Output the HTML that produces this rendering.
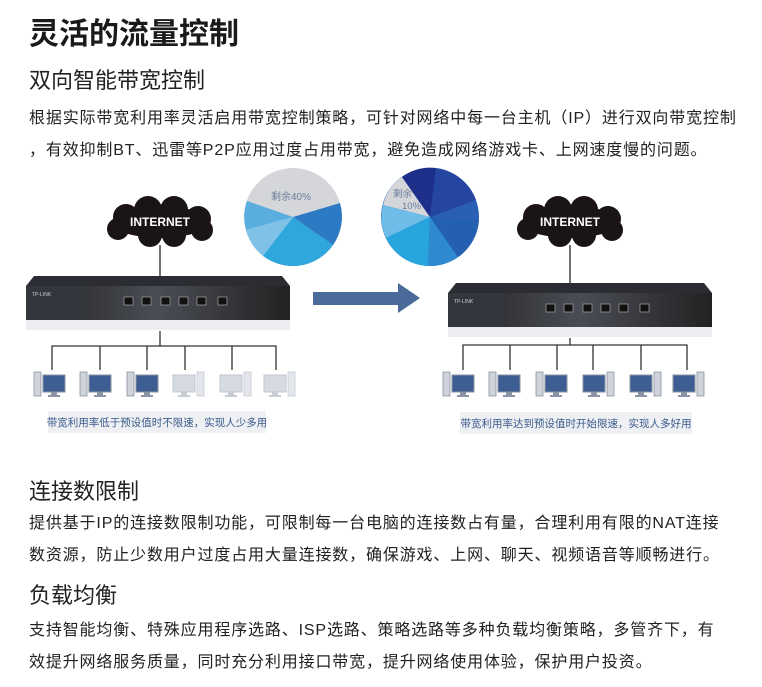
<!DOCTYPE html>
<html><head><meta charset="utf-8"><style>
body{margin:0;width:762px;height:687px;background:#fff;position:relative;overflow:hidden;font-family:"Liberation Sans","Noto Sans CJK SC",sans-serif;color:#222}
.t{position:absolute;left:29px;white-space:nowrap}
.h1{top:9px;font-size:30px;font-weight:bold;color:#1a1a1a}
.h2{font-size:22px;color:#222}
.p{font-size:16px;letter-spacing:0.85px;color:#222}
svg{position:absolute;left:0;top:0}
</style></head><body>
<div class="t h1">灵活的流量控制</div>
<div class="t h2" style="top:63px">双向智能带宽控制</div>
<div class="t p" style="top:104px">根据实际带宽利用率灵活启用带宽控制策略，可针对网络中每一台主机（IP）进行双向带宽控制</div>
<div class="t p" style="top:136px">，有效抑制BT、迅雷等P2P应用过度占用带宽，避免造成网络游戏卡、上网速度慢的问题。</div>

<svg width="762" height="460" viewBox="0 0 762 460">
<defs>
<linearGradient id="rt" x1="0" y1="0" x2="1" y2="0"><stop offset="0" stop-color="#222"/><stop offset=".5" stop-color="#4a4d55"/><stop offset="1" stop-color="#222"/></linearGradient>
<g id="cloud"><ellipse cx="0" cy="0" rx="48" ry="16" fill="#1b1414"/><circle cx="-34" cy="-5" r="13" fill="#1b1414"/><circle cx="-12" cy="-12" r="14" fill="#1b1414"/><circle cx="14" cy="-12" r="14" fill="#1b1414"/><circle cx="38" cy="-3" r="13" fill="#1b1414"/><circle cx="-42" cy="7" r="11" fill="#1b1414"/><circle cx="42" cy="8" r="11" fill="#1b1414"/><circle cx="-10" cy="13" r="12" fill="#1b1414"/><circle cx="14" cy="13" r="12" fill="#1b1414"/><text x="0" y="4" font-size="12" font-weight="bold" fill="#fff" text-anchor="middle" font-family="Liberation Sans">INTERNET</text></g>
<g id="pc"><rect x="0" y="0" width="7" height="24" fill="#cfd3da" stroke="#8a93a3" stroke-width=".8"/><rect x="9" y="3" width="22" height="17" fill="#3d5e93" stroke="#8a93a3"/><rect x="17" y="20" width="6" height="3" fill="#8a93a3"/><rect x="14" y="23" width="12" height="2" fill="#8a93a3"/></g>
<g id="pcl"><rect x="0" y="3" width="22" height="17" fill="#d6dae2" stroke="#c2c7d0"/><rect x="8" y="20" width="6" height="3" fill="#c8ccd4"/><rect x="5" y="23" width="12" height="2" fill="#c8ccd4"/><rect x="24" y="0" width="7" height="24" fill="#e3e6eb" stroke="#c8ccd4" stroke-width=".8"/></g>
<g id="pcr"><rect x="0" y="3" width="22" height="17" fill="#3d5e93" stroke="#8a93a3"/><rect x="8" y="20" width="6" height="3" fill="#8a93a3"/><rect x="5" y="23" width="12" height="2" fill="#8a93a3"/><rect x="24" y="0" width="7" height="24" fill="#cfd3da" stroke="#8a93a3" stroke-width=".8"/></g>
<g id="router"><path d="M8 0 H256 L264 10 H0 Z" fill="#2b2d33"/><rect x="0" y="10" width="264" height="34" fill="url(#rt)"/><rect x="0" y="10" width="56" height="34" fill="#33363d"/><text x="6" y="20" font-size="5" fill="#ccc" font-family="Liberation Sans">TP-LINK</text>
<g fill="#111" stroke="#999" stroke-width=".8"><rect x="98" y="21" width="9" height="8"/><rect x="116" y="21" width="9" height="8"/><rect x="135" y="21" width="9" height="8"/><rect x="153" y="21" width="9" height="8"/><rect x="171" y="21" width="9" height="8"/><rect x="192" y="21" width="9" height="8"/></g>
<rect x="0" y="44" width="264" height="10" fill="#eceef1"/></g>
</defs>
<use href="#cloud" x="160" y="222"/>
<line x1="160" y1="245" x2="160" y2="277" stroke="#444" stroke-width="1.5"/>
<use href="#router" x="26" y="276"/>
<g stroke="#333" stroke-width="1.3" fill="none">
<path d="M160 331 V346 M52 370 V346 H276 V370 M100 346 V370 M147 346 V370 M185 346 V370 M232 346 V370"/>
</g>
<use href="#pc" x="34" y="372"/><use href="#pc" x="80" y="372"/><use href="#pc" x="127" y="372"/>
<use href="#pcl" x="173" y="372"/><use href="#pcl" x="220" y="372"/><use href="#pcl" x="264" y="372"/>
<rect x="48" y="411" width="218" height="22" fill="#eef0f3"/>
<text x="157" y="426" font-size="10.5" fill="#3a5a8a" text-anchor="middle">带宽利用率低于预设值时不限速，实现人少多用</text>
<g transform="translate(293,217)">
<circle r="49" fill="#d4d6da"/>
<path d="M0 0 L-47 13 A49 49 0 0 0 -30 39 Z" fill="#7fc2e8"/>
<path d="M0 0 L-47 13 A49 49 0 0 1 -46 -16 Z" fill="#5aaedf"/>
<path d="M0 0 L-30 39 A49 49 0 0 0 40 28 Z" fill="#2fa6dc"/>
<path d="M0 0 L40 28 A49 49 0 0 0 47 -14 Z" fill="#2d7ac4"/>
<text x="-2" y="-17" font-size="10" fill="#6a7f9c" text-anchor="middle">剩余40%</text>
</g>
<path d="M313 292 H398 V283 L420 298 L398 313 V305 H313 Z" fill="#4a6a9a"/>
<g transform="translate(430,217)">
<circle r="49" fill="#2a5fb5"/>
<path d="M0 0 L-28 -40 A49 49 0 0 0 -47 -12 Z" fill="#d4d6da"/>
<path d="M0 0 L-47 -12 A49 49 0 0 0 -44 21 Z" fill="#6ebde8"/>
<path d="M0 0 L-44 21 A49 49 0 0 0 -2 49 Z" fill="#27a5dc"/>
<path d="M0 0 L-2 49 A49 49 0 0 0 28 40 Z" fill="#2e8ad0"/>
<path d="M0 0 L-28 -40 A49 49 0 0 1 6 -49 Z" fill="#1e2f8a"/>
<path d="M0 0 L49 3 A49 49 0 0 1 28 40 Z" fill="#2360b0"/>
<path d="M0 0 L6 -49 A49 49 0 0 1 46 -17 Z" fill="#2445a0"/>
<text x="-37" y="-20" font-size="9.5" fill="#6a7f9c">剩余</text>
<text x="-28" y="-8" font-size="9.5" fill="#6a7f9c">10%</text>
</g>
<use href="#cloud" x="570" y="222"/>
<line x1="570" y1="245" x2="570" y2="284" stroke="#444" stroke-width="1.5"/>
<use href="#router" x="448" y="283"/>
<g stroke="#333" stroke-width="1.3" fill="none">
<path d="M570 338 V345 M463 370 V345 H687 V370 M510 345 V370 M557 345 V370 M593 345 V370 M641 345 V370"/>
</g>
<use href="#pc" x="443" y="372"/><use href="#pc" x="489" y="372"/><use href="#pc" x="536" y="372"/>
<use href="#pcr" x="583" y="372"/><use href="#pcr" x="630" y="372"/><use href="#pcr" x="673" y="372"/>
<rect x="460" y="412" width="232" height="22" fill="#eef0f3"/>
<text x="576" y="427" font-size="10.5" fill="#3a5a8a" text-anchor="middle">带宽利用率达到预设值时开始限速，实现人多好用</text>
</svg>

<div class="t h2" style="top:474px">连接数限制</div>
<div class="t p" style="top:509px">提供基于IP的连接数限制功能，可限制每一台电脑的连接数占有量，合理利用有限的NAT连接</div>
<div class="t p" style="top:541px">数资源，防止少数用户过度占用大量连接数，确保游戏、上网、聊天、视频语音等顺畅进行。</div>
<div class="t h2" style="top:578px">负载均衡</div>
<div class="t p" style="top:616px">支持智能均衡、特殊应用程序选路、ISP选路、策略选路等多种负载均衡策略，多管齐下，有</div>
<div class="t p" style="top:648px">效提升网络服务质量，同时充分利用接口带宽，提升网络使用体验，保护用户投资。</div>
</body></html>
